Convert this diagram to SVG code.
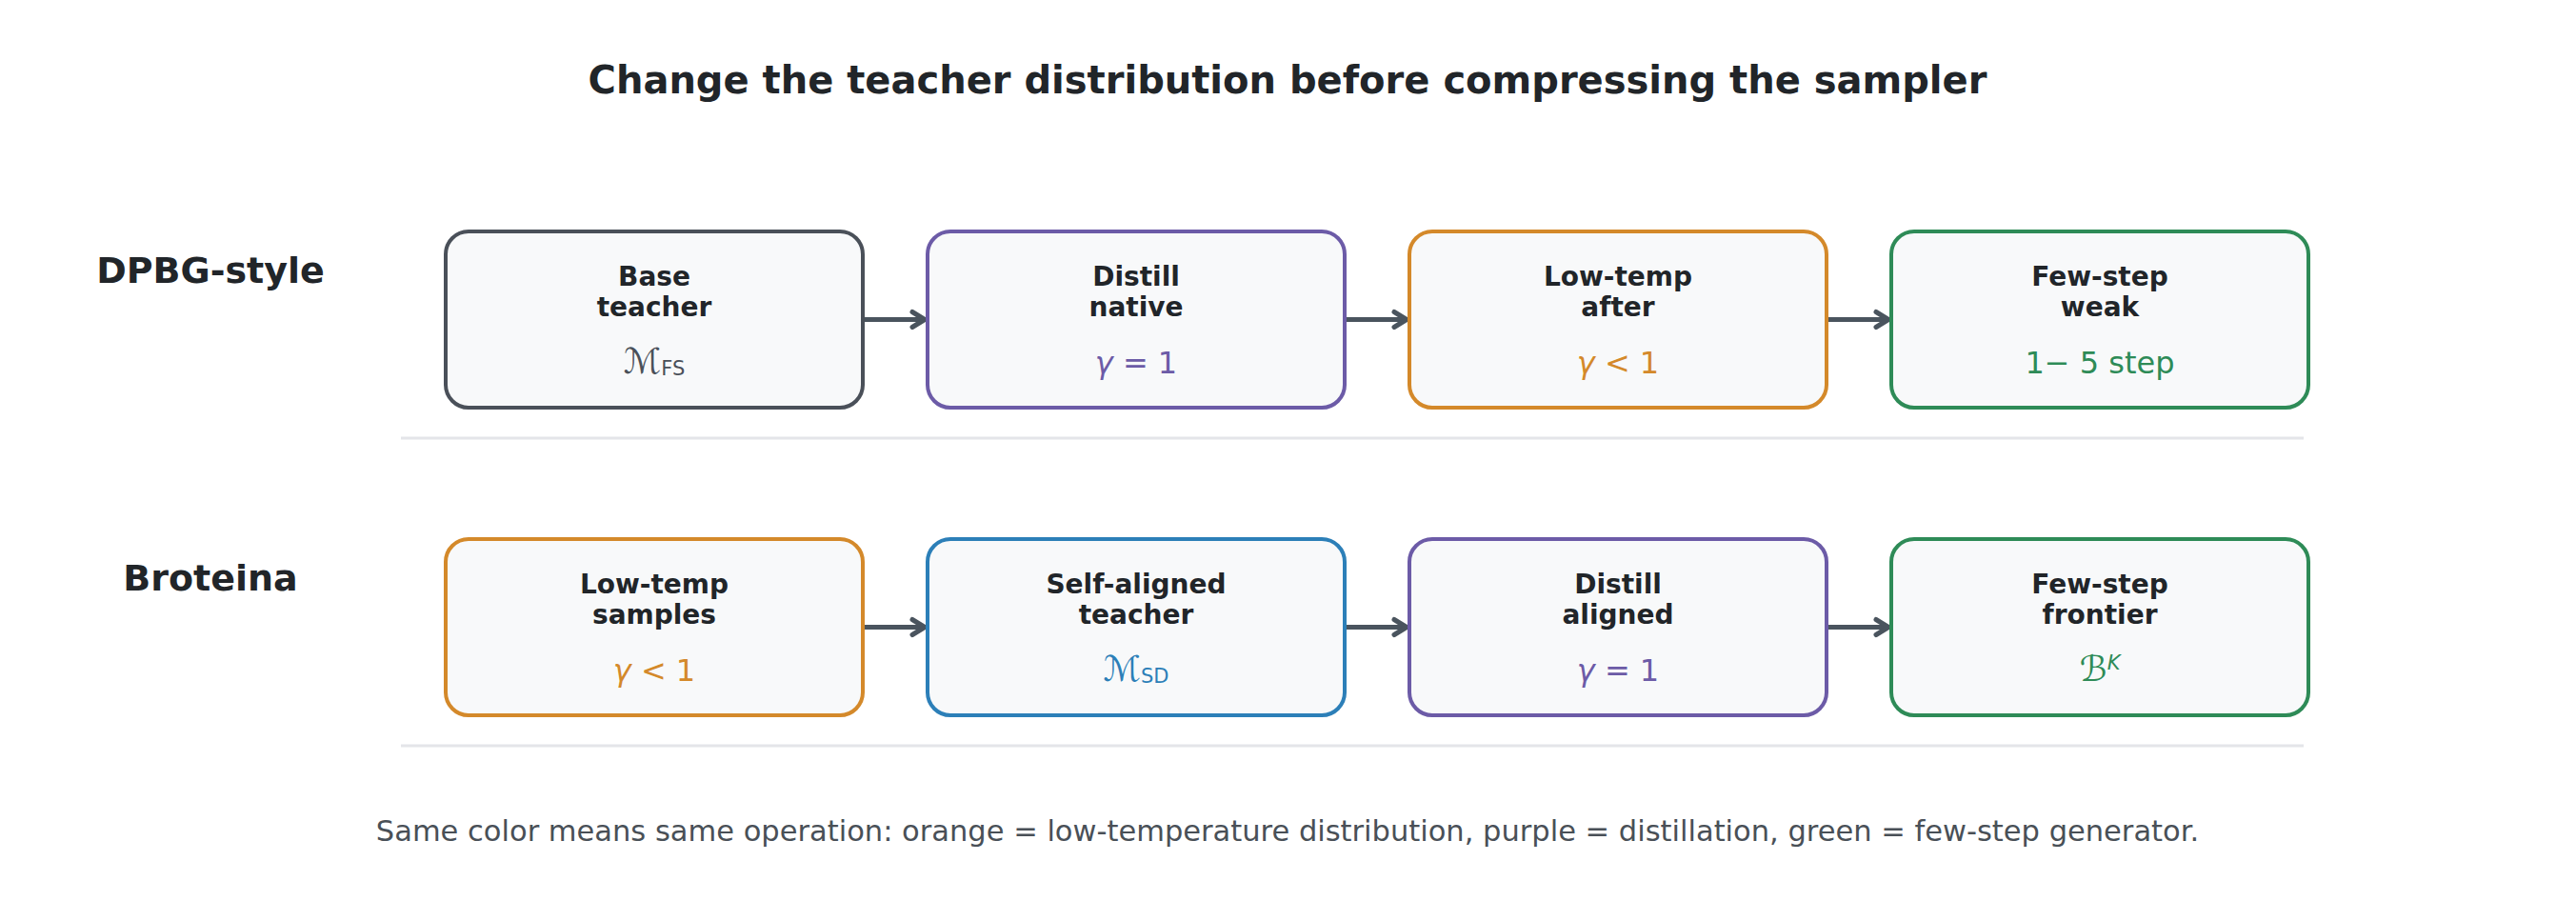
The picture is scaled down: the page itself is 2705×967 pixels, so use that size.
<svg xmlns="http://www.w3.org/2000/svg" width="2705" height="967" viewBox="0 0 2705 967">
<style>
  .bg{fill:#ffffff}
  .box{fill:#f8f9fa;stroke-width:4}
  .gray{stroke:#4a5059}
  .purple{stroke:#6c5ba7}
  .orange{stroke:#d4892a}
  .green{stroke:#2e8b57}
  .blue{stroke:#2c7fb8}
  .lbl{font-family:"DejaVu Sans",sans-serif;font-weight:bold;font-size:28px;fill:#212529;text-anchor:middle}
  .math{font-family:"DejaVu Sans",sans-serif;font-size:32px;text-anchor:middle}
  .scr{font-family:"DejaVu Sans",sans-serif;font-size:37px}
  .sub{font-family:"DejaVu Sans",sans-serif;font-size:21px}
  .it{font-style:italic}
  .row{font-family:"DejaVu Sans",sans-serif;font-weight:bold;font-size:38px;fill:#212529;text-anchor:middle}
  .title{font-family:"DejaVu Sans",sans-serif;font-weight:bold;font-size:40px;fill:#212529;text-anchor:middle}
  .foot{font-family:"DejaVu Sans",sans-serif;font-size:30.5px;fill:#495057;text-anchor:middle}
  .sep{stroke:#e4e5e9;stroke-width:3}
  .conn{stroke:#4a545e;stroke-width:5;fill:none}
</style>
<defs>
  <marker id="ah" viewBox="0 0 20 24" refX="17" refY="12" markerWidth="20" markerHeight="24" markerUnits="userSpaceOnUse" orient="auto">
    <path d="M4,4 L17,12 L4,20" fill="none" stroke="#4a545e" stroke-width="5" stroke-linecap="round" stroke-linejoin="round"/>
  </marker>
</defs>
<rect class="bg" x="0" y="0" width="2705" height="967"/>
<text class="title" x="1352" y="98">Change the teacher distribution before compressing the sampler</text>
<text class="row" x="221" y="297">DPBG-style</text>
<text class="row" x="221" y="620">Broteina</text>
<line class="sep" x1="421" y1="460" x2="2419" y2="460"/>
<line class="sep" x1="421" y1="783" x2="2419" y2="783"/>

<g id="connectors">
  <line class="conn" x1="904" y1="335.5" x2="971" y2="335.5" marker-end="url(#ah)"/>
  <line class="conn" x1="1410" y1="335.5" x2="1477" y2="335.5" marker-end="url(#ah)"/>
  <line class="conn" x1="1916" y1="335.5" x2="1983" y2="335.5" marker-end="url(#ah)"/>
  <line class="conn" x1="904" y1="658.5" x2="971" y2="658.5" marker-end="url(#ah)"/>
  <line class="conn" x1="1410" y1="658.5" x2="1477" y2="658.5" marker-end="url(#ah)"/>
  <line class="conn" x1="1916" y1="658.5" x2="1983" y2="658.5" marker-end="url(#ah)"/>
</g>

<g id="n-base-teacher">
  <rect class="box gray" x="468" y="243" width="438" height="185" rx="24"/>
  <text class="lbl" x="687" y="300">Base</text>
  <text class="lbl" x="687" y="332">teacher</text>
  <text class="math" x="687" y="392" fill="#4a5059"><tspan class="scr">ℳ</tspan><tspan class="sub" dy="2">FS</tspan></text>
</g>
<g id="n-distill-native">
  <rect class="box purple" x="974" y="243" width="438" height="185" rx="24"/>
  <text class="lbl" x="1193" y="300">Distill</text>
  <text class="lbl" x="1193" y="332">native</text>
  <text class="math" x="1193" y="392" fill="#6c5ba7"><tspan class="it">γ</tspan> = 1</text>
</g>
<g id="n-lowtemp-after">
  <rect class="box orange" x="1480" y="243" width="438" height="185" rx="24"/>
  <text class="lbl" x="1699" y="300">Low-temp</text>
  <text class="lbl" x="1699" y="332">after</text>
  <text class="math" x="1699" y="392" fill="#d4892a"><tspan class="it">γ</tspan> &lt; 1</text>
</g>
<g id="n-fewstep-weak">
  <rect class="box green" x="1986" y="243" width="438" height="185" rx="24"/>
  <text class="lbl" x="2205" y="300">Few-step</text>
  <text class="lbl" x="2205" y="332">weak</text>
  <text class="math" x="2205" y="392" fill="#2e8b57">1− 5 step</text>
</g>

<g id="n-lowtemp-samples">
  <rect class="box orange" x="468" y="566" width="438" height="185" rx="24"/>
  <text class="lbl" x="687" y="623">Low-temp</text>
  <text class="lbl" x="687" y="655">samples</text>
  <text class="math" x="687" y="715" fill="#d4892a"><tspan class="it">γ</tspan> &lt; 1</text>
</g>
<g id="n-selfaligned-teacher">
  <rect class="box blue" x="974" y="566" width="438" height="185" rx="24"/>
  <text class="lbl" x="1193" y="623">Self-aligned</text>
  <text class="lbl" x="1193" y="655">teacher</text>
  <text class="math" x="1193" y="715" fill="#2c7fb8"><tspan class="scr">ℳ</tspan><tspan class="sub" dy="2">SD</tspan></text>
</g>
<g id="n-distill-aligned">
  <rect class="box purple" x="1480" y="566" width="438" height="185" rx="24"/>
  <text class="lbl" x="1699" y="623">Distill</text>
  <text class="lbl" x="1699" y="655">aligned</text>
  <text class="math" x="1699" y="715" fill="#6c5ba7"><tspan class="it">γ</tspan> = 1</text>
</g>
<g id="n-fewstep-frontier">
  <rect class="box green" x="1986" y="566" width="438" height="185" rx="24"/>
  <text class="lbl" x="2205" y="623">Few-step</text>
  <text class="lbl" x="2205" y="655">frontier</text>
  <text class="math" x="2205" y="715" fill="#2e8b57"><tspan class="scr">ℬ</tspan><tspan class="sub it" dy="-12">K</tspan></text>
</g>

<text class="foot" x="1352" y="883">Same color means same operation: orange = low-temperature distribution, purple = distillation, green = few-step generator.</text>
</svg>
